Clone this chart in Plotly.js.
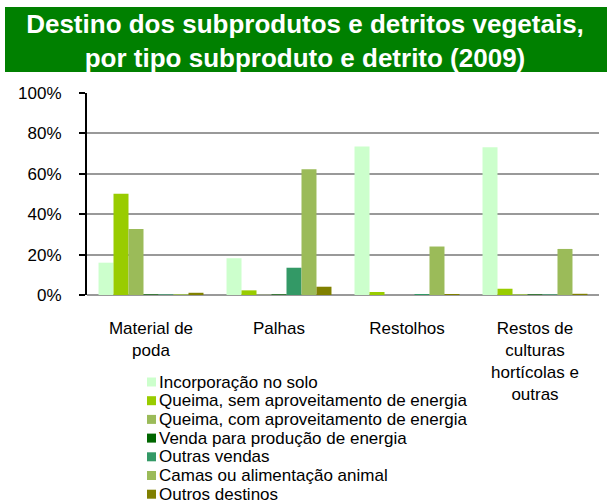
<!DOCTYPE html>
<html>
<head>
<meta charset="utf-8">
<script src="https://cdn.plot.ly/plotly-3.0.1.min.js"></script>
<style>html,body{margin:0;padding:0;background:#fff;}#chart{width:607px;height:504px;}</style>
</head>
<body>
<div id="chart"></div>
<script>
const categories = ["Material de<br>poda", "Palhas", "Restolhos", "Restos de<br>culturas<br>hortícolas e<br>outras"];
const seriesNames = [
  "Incorporação no solo",
  "Queima, sem aproveitamento de energia",
  "Queima, com aproveitamento de energia",
  "Venda para produção de energia",
  "Outras vendas",
  "Camas ou alimentação animal",
  "Outros destinos"
];
const incorporacao = [16.0, 18.2, 73.5, 73.2];
const queimaSem    = [50.1, 2.3, 1.5, 3.1];
const queimaCom    = [32.7, 0.1, 0.0, 0.5];
const vendaEnergia = [0.3, 0.3, 0.0, 0.3];
const outrasVendas = [0.3, 13.5, 0.5, 0.3];
const camas        = [0.5, 62.3, 24.0, 22.8];
const outrosDest   = [1.1, 4.1, 0.5, 0.6];
const yTickVals = [0, 20, 40, 60, 80, 100];
const yTickText = ["0%", "20%", "40%", "60%", "80%", "100%"];

const seriesValues = [incorporacao, queimaSem, queimaCom, vendaEnergia, outrasVendas, camas, outrosDest];
const colors = ["#CCFFCC", "#99CC00", "#9BBB59", "#006600", "#339966", "#9BBB59", "#808000"];

const traces = seriesValues.map((vals, i) => ({
  type: "bar",
  x: categories,
  y: vals,
  name: seriesNames[i],
  marker: {color: colors[i], line: {width: 0}},
  showlegend: false,
  hoverinfo: "skip"
}));

const font = "'Liberation Sans', Arial, sans-serif";
const plotL = 87, plotR = 599, plotT = 93, plotB = 295;
const W = 607, H = 504;
const pw = plotR - plotL, ph = plotB - plotT;
const px = x => (x - plotL) / pw;
const py = y => (plotB - y) / ph;

const shapes = [{
  type: "rect", xref: "paper", yref: "paper",
  x0: px(5), x1: px(607), y0: py(72), y1: py(7),
  fillcolor: "#008000", line: {width: 0}, layer: "below"
}];
const annotations = [];
const legTop = 382, legStep = 18.7;
seriesNames.forEach((n, i) => {
  const yc = legTop + i * legStep;
  shapes.push({
    type: "rect", xref: "paper", yref: "paper",
    x0: px(147), x1: px(156), y0: py(yc + 4.5), y1: py(yc - 4.5),
    fillcolor: colors[i], line: {width: 0}
  });
  annotations.push({
    xref: "paper", yref: "paper", x: px(157), y: py(yc),
    xanchor: "left", yanchor: "middle", showarrow: false,
    text: n, font: {family: font, size: 17, color: "#000"}
  });
});

const layout = {
  width: W, height: H,
  margin: {l: plotL, r: W - plotR, t: plotT, b: H - plotB, pad: 0},
  paper_bgcolor: "#fff", plot_bgcolor: "#fff",
  title: {
    text: "<b>Destino dos subprodutos e detritos vegetais,<br>por tipo subproduto e detrito (2009)</b>",
    font: {family: font, size: 26, color: "#fff"},
    x: 305 / W, xref: "container", xanchor: "center", y: 1 - 33 / H, yref: "container", yanchor: "middle"
  },
  barmode: "group",
  bargap: 0.18,
  bargroupgap: 0,
  xaxis: {
    type: "category",
    showline: false, showgrid: false, ticks: "",
    tickfont: {family: font, size: 17, color: "#000"},
    ticklabelstandoff: 21
  },
  yaxis: {
    range: [0, 100], tickvals: yTickVals, ticktext: yTickText,
    showline: true, linecolor: "#000", linewidth: 2,
    ticks: "outside", ticklen: 6, tickcolor: "#000", tickwidth: 2,
    showgrid: true, gridcolor: "#999", gridwidth: 2,
    zeroline: true, zerolinecolor: "#999", zerolinewidth: 2,
    tickfont: {family: font, size: 17, color: "#000"},
    ticklabelstandoff: 14
  },
  shapes: shapes,
  annotations: annotations
};

Plotly.newPlot("chart", traces, layout, {displayModeBar: false, staticPlot: true});
</script>
</body>
</html>
